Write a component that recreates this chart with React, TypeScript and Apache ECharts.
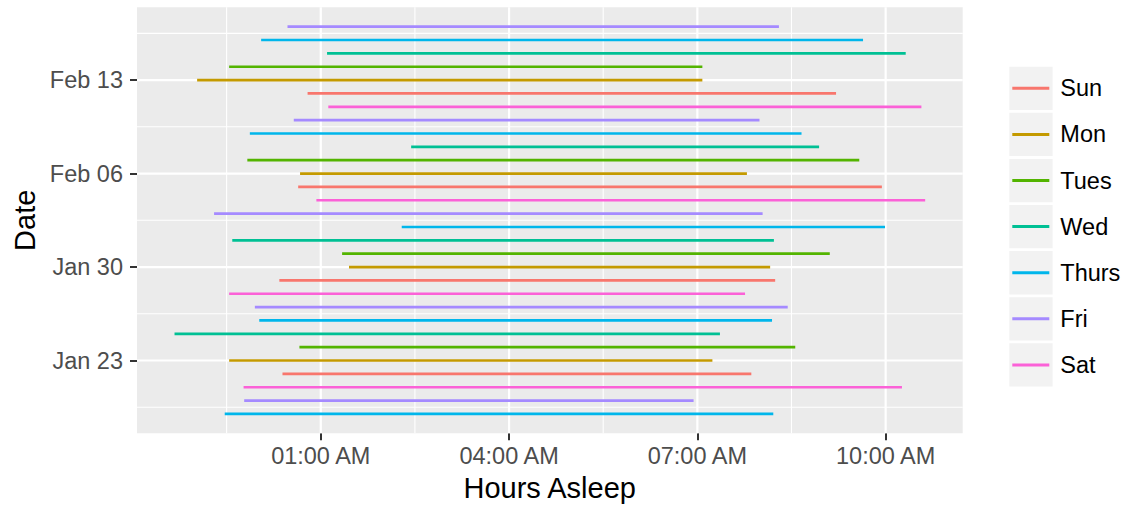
import React, { useEffect, useRef } from "react";
import * as echarts from "echarts";

// ---- data ----
const dates = [
  "2017-01-19", "2017-01-20", "2017-01-21", "2017-01-22", "2017-01-23",
  "2017-01-24", "2017-01-25", "2017-01-26", "2017-01-27", "2017-01-28",
  "2017-01-29", "2017-01-30", "2017-01-31", "2017-02-01", "2017-02-02",
  "2017-02-03", "2017-02-04", "2017-02-05", "2017-02-06", "2017-02-07",
  "2017-02-08", "2017-02-09", "2017-02-10", "2017-02-11", "2017-02-12",
  "2017-02-13", "2017-02-14", "2017-02-15", "2017-02-16", "2017-02-17",
];
// hours relative to midnight (negative = the previous evening)
const sleepStart = [
  -0.53, -0.22, -0.23, 0.39, -0.46,
  0.66, -1.33, 0.02, -0.05, -0.46,
  0.34, 1.45, 1.34, -0.41, 2.29,
  -0.70, 0.93, 0.64, 0.67, -0.17,
  2.44, -0.13, 0.57, 1.12, 0.79,
  -0.97, -0.46, 1.10, 0.05, 0.47,
];
const sleepEnd = [
  8.21, 6.94, 10.26, 7.86, 7.24,
  8.56, 7.36, 8.19, 8.44, 7.76,
  8.24, 8.16, 9.11, 8.22, 9.99,
  8.04, 10.63, 9.94, 7.79, 9.58,
  8.94, 8.66, 7.99, 10.57, 9.21,
  7.08, 7.08, 10.32, 9.64, 8.30,
];
const weekdays = ["Sun", "Mon", "Tues", "Wed", "Thurs", "Fri", "Sat"];
const weekdayColors = ["#F8766D", "#C49A00", "#53B400", "#00C094", "#00B6EB", "#A58AFF", "#FB61D7"];
const xTickValues = [1, 4, 7, 10];
const yTickDates = ["2017-01-23", "2017-01-30", "2017-02-06", "2017-02-13"];
const xTitle = "Hours Asleep";
const yTitle = "Date";

const FONT = "'Liberation Sans', Arial, Helvetica, sans-serif";
const MONTHS = ["Jan", "Feb", "Mar", "Apr", "May", "Jun", "Jul", "Aug", "Sep", "Oct", "Nov", "Dec"];
const BASE = Date.UTC(2017, 0, 1);
const DAY = 86400000;

function dayNum(s: string): number {
  return (Date.parse(s + "T00:00:00Z") - BASE) / DAY + 1;
}
function fmtDate(v: number): string {
  const d = new Date(BASE + Math.round(v - 1) * DAY);
  return MONTHS[d.getUTCMonth()] + " " + String(d.getUTCDate()).padStart(2, "0");
}
function fmtTime(v: number): string {
  const h = ((Math.round(v) % 24) + 24) % 24;
  const hh = h % 12 === 0 ? 12 : h % 12;
  return String(hh).padStart(2, "0") + ":00 " + (h < 12 ? "AM" : "PM");
}
function minorsOf(majors: number[], lo: number, hi: number): number[] {
  const step = majors[1] - majors[0];
  const out: number[] = [];
  out.push(majors[0] - step / 2);
  majors.forEach((m) => out.push(m + step / 2));
  return out.filter((v) => v > lo && v < hi);
}

export default function App() {
  const ref = useRef<HTMLDivElement>(null);

  useEffect(() => {
    if (!ref.current) return;
    const chart = echarts.init(ref.current, undefined, { renderer: "svg" });

    const days = dates.map(dayNum);
    const allX = sleepStart.concat(sleepEnd);
    const xLo = Math.min(...allX), xHi = Math.max(...allX);
    const xMin = xLo - 0.05 * (xHi - xLo);
    const xMax = xHi + 0.05 * (xHi - xLo);
    const yLo = Math.min(...days), yHi = Math.max(...days);
    const yMin = yLo - 0.05 * (yHi - yLo);
    const yMax = yHi + 0.05 * (yHi - yLo);

    const yTickValues = yTickDates.map(dayNum);
    const xMinor = minorsOf(xTickValues, xMin, xMax);
    const yMinor = minorsOf(yTickValues, yMin, yMax);

    const gridData: number[][] = [
      ...xMinor.map((v) => [0, v, 1.1]),
      ...yMinor.map((v) => [1, v, 1.1]),
      ...xTickValues.map((v) => [0, v, 2.2]),
      ...yTickValues.map((v) => [1, v, 2.2]),
    ];

    const segSeries = weekdays.map((name, wi) => {
      const color = weekdayColors[wi];
      const data: number[][] = [];
      dates.forEach((d, i) => {
        const wd = new Date(d + "T00:00:00Z").getUTCDay();
        if (wd === wi) data.push([sleepStart[i], sleepEnd[i], days[i]]);
      });
      return {
        type: "custom",
        name,
        z: 3,
        itemStyle: { color },
        encode: { x: [0, 1], y: 2 },
        data,
        renderItem: (params: any, api: any) => {
          const y = api.value(2);
          const p1 = api.coord([api.value(0), y]);
          const p2 = api.coord([api.value(1), y]);
          return {
            type: "line",
            shape: { x1: p1[0], y1: p1[1], x2: p2[0], y2: p2[1] },
            style: { stroke: color, lineWidth: 2.7 },
          };
        },
      };
    });

    const gridSeries = {
      type: "custom",
      name: "gridlines",
      z: 1,
      silent: true,
      encode: { x: 1, y: 1 },
      data: gridData,
      renderItem: (params: any, api: any) => {
        const cs = params.coordSys;
        const o = api.value(0);
        const v = api.value(1);
        const w = api.value(2);
        if (o === 0) {
          const x = api.coord([v, (yMin + yMax) / 2])[0];
          return {
            type: "line",
            shape: { x1: x, y1: cs.y, x2: x, y2: cs.y + cs.height },
            style: { stroke: "#FFFFFF", lineWidth: w },
          };
        }
        const y = api.coord([(xMin + xMax) / 2, v])[1];
        return {
          type: "line",
          shape: { x1: cs.x, y1: y, x2: cs.x + cs.width, y2: y },
          style: { stroke: "#FFFFFF", lineWidth: w },
        };
      },
    };

    const keyRects = weekdays.map((_, i) => ({
      type: "rect",
      z: 0,
      shape: { x: 1009.3, y: 66.7 + 46.1 * i, width: 43.3, height: 43.3 },
      style: { fill: "#F2F2F2" },
    }));

    chart.setOption({
      animation: false,
      backgroundColor: "#FFFFFF",
      textStyle: { fontFamily: FONT },
      grid: {
        left: 137,
        top: 7.3,
        right: 163.3,
        bottom: 76.7,
        show: true,
        backgroundColor: "#EBEBEB",
        borderWidth: 0,
        containLabel: false,
        outerBoundsMode: "none",
      },
      xAxis: {
        type: "value",
        min: xMin,
        max: xMax,
        axisLine: { show: false, onZero: false },
        splitLine: { show: false },
        axisTick: {
          show: true,
          customValues: xTickValues,
          length: 7,
          lineStyle: { color: "#333333", width: 2 },
        },
        axisLabel: {
          customValues: xTickValues,
          formatter: (v: number) => fmtTime(v),
          color: "#4D4D4D",
          fontSize: 23.5,
          fontFamily: FONT,
          margin: 11,
        },
      },
      yAxis: {
        type: "value",
        min: yMin,
        max: yMax,
        axisLine: { show: false, onZero: false },
        splitLine: { show: false },
        axisTick: {
          show: true,
          customValues: yTickValues,
          length: 7,
          lineStyle: { color: "#333333", width: 2 },
        },
        axisLabel: {
          customValues: yTickValues,
          formatter: (v: number) => fmtDate(v),
          color: "#4D4D4D",
          fontSize: 23.5,
          fontFamily: FONT,
          margin: 14,
        },
      },
      legend: {
        orient: "vertical",
        left: 1012.3,
        top: 76.3,
        padding: 0,
        itemGap: 22.1,
        itemWidth: 37,
        itemHeight: 3,
        icon: "rect",
        selectedMode: false,
        data: weekdays,
        itemStyle: { borderWidth: 0 },
        textStyle: {
          fontSize: 23.5,
          lineHeight: 24,
          color: "#000000",
          fontFamily: FONT,
          padding: [0, 0, 0, 6],
        },
      },
      graphic: {
        elements: [
          ...keyRects,
          {
            type: "text",
            x: 549.7,
            y: 488.3,
            style: {
              text: xTitle,
              fontSize: 29,
              fontFamily: FONT,
              fill: "#000000",
              align: "center",
              verticalAlign: "middle",
            },
          },
          {
            type: "text",
            x: 25,
            y: 220.3,
            rotation: Math.PI / 2,
            style: {
              text: yTitle,
              fontSize: 29,
              fontFamily: FONT,
              fill: "#000000",
              align: "center",
              verticalAlign: "middle",
            },
          },
        ],
      },
      series: [gridSeries, ...segSeries],
    });

    return () => chart.dispose();
  }, []);

  return (
    <div
      ref={ref}
      style={{ position: "fixed", left: 0, top: 0, width: 1126, height: 510 }}
    />
  );
}
